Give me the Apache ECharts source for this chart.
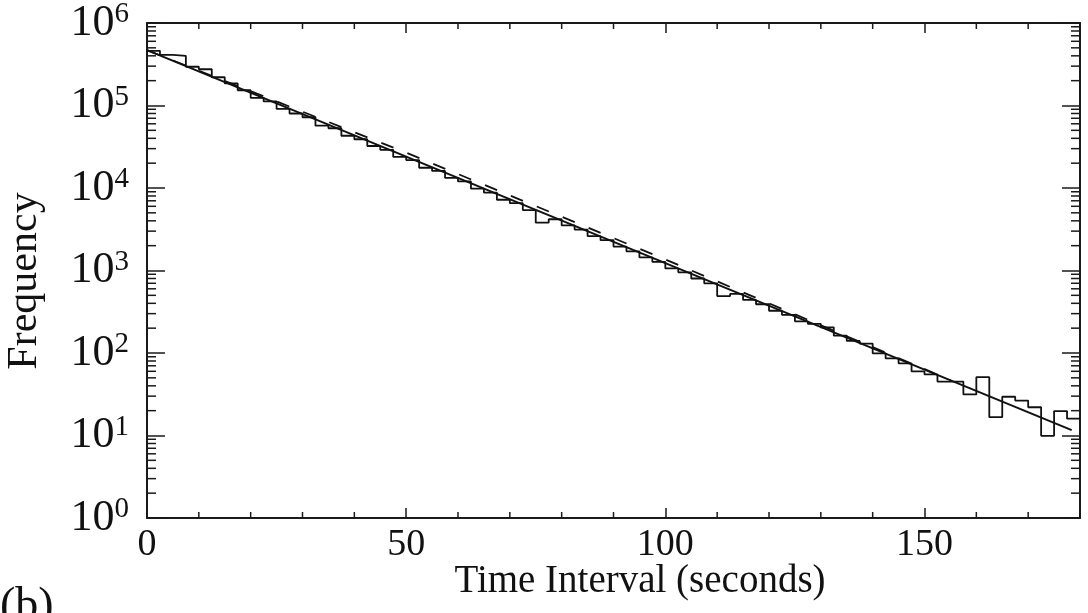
<!DOCTYPE html>
<html>
<head>
<meta charset="utf-8">
<script src="https://cdn.jsdelivr.net/npm/echarts@6/dist/echarts.min.js"></script>
<style>
html,body{margin:0;padding:0;background:#fff;}
#c{width:1088px;height:613px;}
</style>
</head>
<body>
<div id="c"></div>
<script>
// ---- data ----
const binStarts = [0,2.5,5,7.5,10,12.5,15,17.5,20,22.5,25,27.5,30,32.5,35,37.5,40,42.5,45,47.5,
  50,52.5,55,57.5,60,62.5,65,67.5,70,72.5,75,77.5,80,82.5,85,87.5,90,92.5,95,97.5,
  100,102.5,105,107.5,110,112.5,115,117.5,120,122.5,125,127.5,130,132.5,135,137.5,140,142.5,145,147.5,
  150,152.5,155,157.5,160,162.5,165,167.5,170,172.5,175,177.5];
const binEnd = 180;
const counts = [460000,410000,400000,295000,275000,220000,185000,153000,124000,112000,
  91000,80000,72000,57000,53000,43000,39000,32300,29000,23800,
  21800,17600,16100,13300,12000,9800,8800,7200,6550,5400,
  3800,4180,3520,3130,2610,2330,1950,1710,1440,1270,
  1060,950,800,700,490,520,440,390,325,290,
  242,225,205,162,140,130,99,86,75,60,
  55,45,45,31.5,51,16.7,29.5,26.5,22,9.9,
  19.8,16];
const fitX = [0, 178.4];
const fitY = [470000, 11.6];
const dashX = [0, 50, 100, 155];
const dashY = [468000, 26800, 1360, 47];
const xMajorLabels = [0, 50, 100, 150];
const xMinorTicks = [10,20,30,40,60,70,80,90,110,120,130,140,160,170];
const yDecades = [1,10,100,1000,10000,100000];
const yMinorMult = [2,3,4,5,6,7,8,9];
const xTitle = 'Time Interval (seconds)';
const yTitle = 'Frequency';
const panelLabel = '(b)';

// ---- build ----
const histData = binStarts.map((x,i)=>[x, counts[i]]);
histData.push([binEnd, counts[counts.length-1]]);
const fitData = fitX.map((x,i)=>[x, fitY[i]]);
const dashData = dashX.map((x,i)=>[x, dashY[i]]);
const yMinor = [];
yDecades.forEach(d=>yMinorMult.forEach(m=>yMinor.push([0, d*m])));
const xMinor = xMinorTicks.map(v=>[v, 1]);

const AX = '#1a1a1a';
const FONT = 'Liberation Serif';
const chart = echarts.init(document.getElementById('c'), null, {renderer:'canvas'});
chart.setOption({
  animation:false,
  backgroundColor:'#ffffff',
  grid:{left:147, right:8, top:18, bottom:95, containLabel:false},
  xAxis:[{
    type:'value', min:0, max:180, interval:50,
    axisLine:{show:true, onZero:false, lineStyle:{color:AX, width:2}},
    axisTick:{show:true, inside:true, length:10, lineStyle:{color:AX, width:1.5}},
    axisLabel:{margin:8, fontFamily:FONT, fontSize:38, color:'#111',
      formatter:v=> xMajorLabels.indexOf(v)>=0 ? String(v) : ''},
    splitLine:{show:false}
  },{
    type:'value', position:'top', min:0, max:180, interval:50,
    axisLine:{show:true, onZero:false, lineStyle:{color:AX, width:2}},
    axisTick:{show:true, inside:true, length:10, lineStyle:{color:AX, width:1.5}},
    axisLabel:{show:false}, splitLine:{show:false}
  }],
  yAxis:[{
    type:'log', logBase:10, min:1, max:1000000,
    axisLine:{show:true, onZero:false, lineStyle:{color:AX, width:2}},
    axisTick:{show:true, inside:true, length:18, lineStyle:{color:AX, width:1.5}},
    axisLabel:{margin:18, fontFamily:FONT, color:'#111',
      formatter:v=>'{b|10}{s|'+Math.round(Math.log10(v))+'}',
      rich:{b:{fontFamily:FONT, fontSize:44, color:'#111'},
            s:{fontFamily:FONT, fontSize:29, color:'#111', verticalAlign:'top', padding:[0,0,17,0]}}},
    splitLine:{show:false}
  },{
    type:'log', logBase:10, min:1, max:1000000, position:'right',
    axisLine:{show:true, onZero:false, lineStyle:{color:AX, width:2}},
    axisTick:{show:true, inside:true, length:18, lineStyle:{color:AX, width:1.5}},
    axisLabel:{show:false}, splitLine:{show:false}
  }],
  graphic:[
    {type:'text', x:640, y:582, style:{text:xTitle, font:'39px "Liberation Serif"', fill:'#111', align:'center', verticalAlign:'middle'}},
    {type:'text', x:25, y:281, rotation:Math.PI/2, style:{text:yTitle, font:'42px "Liberation Serif"', fill:'#111', align:'center', verticalAlign:'middle'}},
    {type:'text', x:0, y:584, style:{text:panelLabel, font:'46px "Liberation Serif"', fill:'#111'}}
  ],
  series:[
    {type:'line', name:'hist', data:histData, step:'end', showSymbol:false,
     lineStyle:{color:'#111', width:1.8}, z:3},
    {type:'line', name:'fit', data:fitData, showSymbol:false,
     lineStyle:{color:'#111', width:2}, z:4},
    {type:'line', name:'dash', data:dashData, showSymbol:false,
     lineStyle:{color:'#111', width:1.8, type:[13,15]}, z:4},
    {type:'custom', name:'yMinor', data:yMinor, silent:true, z:5,
     renderItem:(params, api)=>{
       const y = api.coord([0, api.value(1)])[1];
       const xl = api.coord([0, 1])[0];
       const xr = api.coord([180, 1])[0];
       return {type:'group', children:[
         {type:'line', shape:{x1:xl, y1:y, x2:xl+9, y2:y}, style:{stroke:AX, lineWidth:1.5}},
         {type:'line', shape:{x1:xr-9, y1:y, x2:xr, y2:y}, style:{stroke:AX, lineWidth:1.5}}
       ]};
     }},
    {type:'custom', name:'xMinor', data:xMinor, silent:true, z:5,
     renderItem:(params, api)=>{
       const x = api.coord([api.value(0), 1])[0];
       const yb = api.coord([0, 1])[1];
       const yt = api.coord([0, 1000000])[1];
       return {type:'group', children:[
         {type:'line', shape:{x1:x, y1:yb, x2:x, y2:yb-6}, style:{stroke:AX, lineWidth:1.5}},
         {type:'line', shape:{x1:x, y1:yt, x2:x, y2:yt+6}, style:{stroke:AX, lineWidth:1.5}}
       ]};
     }}
  ]
});
</script>
</body>
</html>
